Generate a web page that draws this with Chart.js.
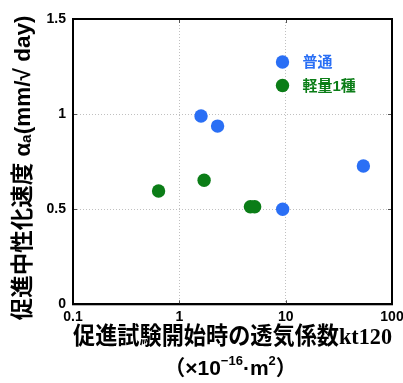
<!DOCTYPE html>
<html>
<head>
<meta charset="utf-8">
<script src="https://cdn.jsdelivr.net/npm/chart.js@4"></script>
<style>
  html, body { margin: 0; padding: 0; background: #fff; }
  canvas { display: block; }
</style>
</head>
<body>
<canvas id="c" width="403" height="383"></canvas>
<script>
// 促進試験開始時の透気係数 kt120 (×10^-16 m²) と促進中性化速度 αa
const seriesNames = ['普通', '軽量1種'];
const seriesColors = ['#2a6ff5', '#0b7d17'];

const normalKt = [1.60, 2.29, 9.37, 53.8];
const normalAlpha = [0.99, 0.937, 0.50, 0.727];

const lightKt = [0.638, 1.71, 4.66, 5.11];
const lightAlpha = [0.596, 0.652, 0.513, 0.513];

const xTickValues = [0.1, 1, 10, 100];
const yTickValues = [0, 0.5, 1, 1.5];

// unit line under the x-axis title, split into normal / superscript runs
const unitRuns = [
  { t: '（', sup: false },
  { t: '×', sup: false },
  { t: '10', sup: false },
  { t: '−16', sup: true },
  { t: '·', sup: false },
  { t: 'm', sup: false },
  { t: '2', sup: true },
  { t: '）', sup: false }
];

const toPoints = (xs, ys) => xs.map((x, i) => ({ x: x, y: ys[i] }));

const SANS = "'Liberation Sans', 'Noto Sans CJK JP', sans-serif";

// frame, inward tick marks, the in-plot legend and the unit line
const decorations = {
  id: 'decorations',
  afterDatasetsDraw(chart) {
    const { ctx, chartArea: a, scales } = chart;
    ctx.save();
    // inward ticks
    ctx.strokeStyle = '#555';
    ctx.lineWidth = 1;
    const L = 4;
    xTickValues.forEach(v => {
      const px = Math.round(scales.x.getPixelForValue(v)) + 0.5;
      ctx.beginPath();
      ctx.moveTo(px, a.bottom); ctx.lineTo(px, a.bottom - L);
      ctx.moveTo(px, a.top); ctx.lineTo(px, a.top + L);
      ctx.stroke();
    });
    yTickValues.forEach(v => {
      const py = Math.round(scales.y.getPixelForValue(v)) + 0.5;
      ctx.beginPath();
      ctx.moveTo(a.left, py); ctx.lineTo(a.left + L, py);
      ctx.moveTo(a.right, py); ctx.lineTo(a.right - L, py);
      ctx.stroke();
    });
    // frame
    ctx.strokeStyle = '#000';
    ctx.lineWidth = 2;
    ctx.strokeRect(a.left, a.top, a.right - a.left, a.bottom - a.top);
    // legend
    const lx = a.left + 209.5;
    const ly = [a.top + 43, a.top + 66.5];
    ctx.font = "bold 15px " + SANS;
    ctx.textBaseline = 'middle';
    ctx.textAlign = 'left';
    seriesNames.forEach((name, i) => {
      ctx.fillStyle = seriesColors[i];
      ctx.beginPath();
      ctx.arc(lx, ly[i], 6.7, 0, Math.PI * 2);
      ctx.fill();
      ctx.fillText(name, lx + 20, ly[i] + 1);
    });
    // unit line
    const mainFont = "bold 21px " + SANS;
    const supFont = "bold 13px " + SANS;
    ctx.fillStyle = '#000';
    ctx.textBaseline = 'alphabetic';
    let total = 0;
    unitRuns.forEach(r => {
      ctx.font = r.sup ? supFont : mainFont;
      r.w = ctx.measureText(r.t).width;
      total += r.w;
    });
    let x = (a.left + a.right) / 2 - total / 2 - 2;
    const base = a.bottom + 71;
    unitRuns.forEach(r => {
      ctx.font = r.sup ? supFont : mainFont;
      ctx.fillText(r.t, x, r.sup ? base - 10 : base);
      x += r.w;
    });
    ctx.restore();
  }
};

new Chart(document.getElementById('c'), {
  type: 'scatter',
  data: {
    datasets: [
      {
        label: seriesNames[0],
        data: toPoints(normalKt, normalAlpha),
        backgroundColor: seriesColors[0],
        borderWidth: 0,
        pointRadius: 6.7,
        pointHoverRadius: 6.7
      },
      {
        label: seriesNames[1],
        data: toPoints(lightKt, lightAlpha),
        backgroundColor: seriesColors[1],
        borderWidth: 0,
        pointRadius: 6.7,
        pointHoverRadius: 6.7
      }
    ]
  },
  options: {
    responsive: false,
    animation: false,
    events: [],
    layout: { padding: { left: 0, right: 11, top: 19, bottom: 30.7 } },
    plugins: {
      legend: { display: false },
      tooltip: { enabled: false },
      title: { display: false }
    },
    scales: {
      x: {
        type: 'logarithmic',
        min: 0.1,
        max: 100,
        afterBuildTicks(scale) {
          scale.ticks = xTickValues.map(v => ({ value: v }));
        },
        afterFit(scale) {
          scale.height = 48;
          scale.paddingLeft = 0;
          scale.paddingRight = 0;
        },
        ticks: {
          color: '#000',
          padding: 4,
          maxRotation: 0,
          autoSkip: false,
          font: { family: SANS, size: 14, weight: 'bold' },
          callback: (v) => String(v)
        },
        grid: {
          color: '#c0c0c0',
          lineWidth: 1,
          drawTicks: false
        },
        border: { display: true, color: '#000', width: 2, dash: [1, 2] },
        title: {
          display: true,
          text: '促進試験開始時の透気係数kt120',
          color: '#000',
          font: { family: "'Liberation Serif', 'Noto Sans CJK JP', serif", size: 24, weight: 'bold', lineHeight: 1.2 },
          padding: { top: 0, bottom: 0 }
        }
      },
      y: {
        min: 0,
        max: 1.5,
        afterBuildTicks(scale) {
          scale.ticks = yTickValues.map(v => ({ value: v }));
        },
        afterFit(scale) { scale.width = 73; },
        ticks: {
          color: '#000',
          padding: 7,
          font: { family: SANS, size: 14, weight: 'bold' },
          callback: (v) => String(v)
        },
        grid: {
          color: '#c0c0c0',
          lineWidth: 1,
          drawTicks: false
        },
        border: { display: true, color: '#000', width: 2, dash: [1, 2] },
        title: {
          display: true,
          text: '促進中性化速度 αₐ(mm/√ day)  ',
          color: '#000',
          font: { family: SANS, size: 22.5, weight: 'bold', lineHeight: 1.2 },
          padding: { top: 10, bottom: 0 }
        }
      }
    }
  },
  plugins: [decorations]
});
</script>
</body>
</html>
